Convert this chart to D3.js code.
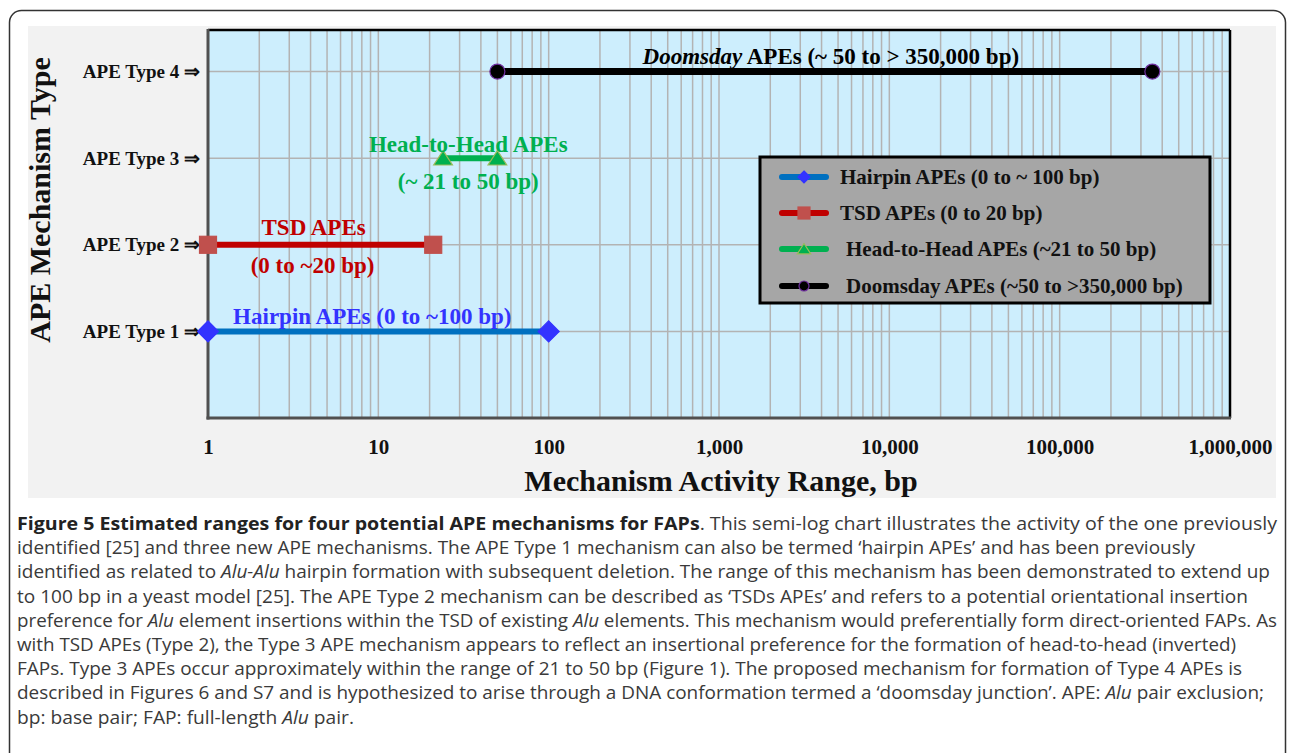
<!DOCTYPE html>
<html><head><meta charset="utf-8">
<script src="https://cdn.jsdelivr.net/npm/d3@7"></script>
<style>body{margin:0;background:#fff;} svg{display:block;}</style>
</head><body><svg id="c" width="1290" height="753"></svg>
<script>
// ---------- DATA ----------
const typeValues = [1, 2, 3, 4];
const typeTickLabels = ["APE Type 1 \u21D2", "APE Type 2 \u21D2", "APE Type 3 \u21D2", "APE Type 4 \u21D2"];
const seriesNames = ["Hairpin APEs (0 to ~ 100 bp)", "TSD APEs (0 to 20 bp)", "Head-to-Head APEs (~21 to 50 bp)", "Doomsday APEs (~50 to >350,000 bp)"];
const rangeStart = [1, 1, 24, 50];
const rangeEnd = [100, 21, 50, 350000];
const xTickValues = [1, 10, 100, 1000, 10000, 100000, 1000000];
const xTitle = "Mechanism Activity Range, bp";
const yTitle = "APE Mechanism Type";
const captionLines = [
  [["Figure 5 Estimated ranges for four potential APE mechanisms for FAPs", "b"], [". This semi-log chart illustrates the activity of the one previously", ""]],
  [["identified [25] and three new APE mechanisms. The APE Type 1 mechanism can also be termed \u2018hairpin APEs\u2019 and has been previously", ""]],
  [["identified as related to ", ""], ["Alu-Alu", "i"], [" hairpin formation with subsequent deletion. The range of this mechanism has been demonstrated to extend up", ""]],
  [["to 100 bp in a yeast model [25]. The APE Type 2 mechanism can be described as \u2018TSDs APEs\u2019 and refers to a potential orientational insertion", ""]],
  [["preference for ", ""], ["Alu", "i"], [" element insertions within the TSD of existing ", ""], ["Alu", "i"], [" elements. This mechanism would preferentially form direct-oriented FAPs. As", ""]],
  [["with TSD APEs (Type 2), the Type 3 APE mechanism appears to reflect an insertional preference for the formation of head-to-head (inverted)", ""]],
  [["FAPs. Type 3 APEs occur approximately within the range of 21 to 50 bp (Figure 1). The proposed mechanism for formation of Type 4 APEs is", ""]],
  [["described in Figures 6 and S7 and is hypothesized to arise through a DNA conformation termed a \u2018doomsday junction\u2019. APE: ", ""], ["Alu", "i"], [" pair exclusion;", ""]],
  [["bp: base pair; FAP: full-length ", ""], ["Alu", "i"], [" pair.", ""]]
];

// ---------- STYLE ----------
const lineColors = ["#0070c0", "#c00000", "#00b050", "#000000"];
const markerFill = ["#3333ff", "#c0504d", "#00b050", "#000000"];
const markerStroke = ["#3333ff", "#c0504d", "#9bbb59", "#7030a0"];
const labelColors = ["#3333ff", "#c00000", "#00b050", "#000000"];
const serif = "'Liberation Serif','Times New Roman',serif";
// right ends (px) of the caption lines as laid out in the figure
const capEnds = [1277, 1195, 1270, 1248, 1277, 1236, 1242, 1264, 354];

const svg = d3.select("#c");

// outer rounded frame
svg.append("rect").attr("x", 9.5).attr("y", 10.5).attr("width", 1276).attr("height", 790)
  .attr("rx", 12).attr("fill", "#fff").attr("stroke", "#333").attr("stroke-width", 1.5);
// chart background
svg.append("rect").attr("x", 28).attr("y", 26).attr("width", 1248).attr("height", 472).attr("fill", "#f2f2f2");

const L = 208, R = 1230, T = 30, B = 418;
const x = d3.scaleLog().domain([1, 1e6]).range([L, R]);
const y = d3.scaleLinear().domain([0, 4.48]).range([B, T]);

svg.append("rect").attr("x", L).attr("y", T).attr("width", R - L).attr("height", B - T).attr("fill", "#cdeefd");

// grid
const g = svg.append("g");
g.selectAll(".vg").data(x.ticks()).join("line")
  .attr("x1", d => x(d)).attr("x2", d => x(d)).attr("y1", T).attr("y2", B)
  .attr("stroke", "#b3b3b3").attr("stroke-width", 1.5);
g.selectAll(".hg").data(typeValues).join("line")
  .attr("x1", L).attr("x2", R).attr("y1", d => y(d)).attr("y2", d => y(d))
  .attr("stroke", "#b3b3b3").attr("stroke-width", 1.5);

// plot border
svg.append("line").attr("x1", L).attr("x2", R).attr("y1", T).attr("y2", T).attr("stroke", "#000").attr("stroke-width", 2.5);
svg.append("line").attr("x1", R).attr("x2", R).attr("y1", T).attr("y2", B).attr("stroke", "#000").attr("stroke-width", 2.5);
svg.append("line").attr("x1", L).attr("x2", L).attr("y1", T - 1).attr("y2", B + 1.5).attr("stroke", "#505050").attr("stroke-width", 3);
svg.append("line").attr("x1", L - 1.5).attr("x2", R + 1).attr("y1", B).attr("y2", B).attr("stroke", "#505050").attr("stroke-width", 3);

// x axis
const xAxis = svg.append("g").attr("transform", `translate(0,${B})`)
  .call(d3.axisBottom(x).tickValues(xTickValues).tickFormat(d3.format(",")).tickSize(0).tickPadding(21));
xAxis.select(".domain").remove();
xAxis.selectAll("text").attr("font-family", serif).attr("font-weight", "bold").attr("font-size", 21).attr("fill", "#111");

// y axis
const yAxis = svg.append("g").attr("transform", `translate(${L},0)`)
  .call(d3.axisLeft(y).tickValues(typeValues).tickFormat((d, i) => typeTickLabels[i]).tickSize(0).tickPadding(8));
yAxis.select(".domain").remove();
yAxis.selectAll("text").attr("font-family", serif).attr("font-weight", "bold").attr("font-size", 19).attr("fill", "#111");

// titles
svg.append("text").attr("x", 721).attr("y", 491).attr("text-anchor", "middle")
  .attr("font-family", serif).attr("font-weight", "bold").attr("font-size", 30).attr("fill", "#111").text(xTitle);
svg.append("text").attr("transform", "translate(50,200) rotate(-90)").attr("text-anchor", "middle")
  .attr("font-family", serif).attr("font-weight", "bold").attr("font-size", 30).attr("fill", "#111").text(yTitle);

// markers
function marker(sel, i, s) {
  const h = s / 2;
  if (i === 0) return sel.append("path").attr("d", `M0,${-h}L${h},0L0,${h}L${-h},0Z`);
  if (i === 1) return sel.append("rect").attr("x", -h).attr("y", -h).attr("width", s).attr("height", s);
  if (i === 2) return sel.append("path").attr("d", `M0,${-s * 0.42}L${s * 0.52},${s * 0.38}L${-s * 0.52},${s * 0.38}Z`);
  return sel.append("circle").attr("r", h);
}
const mSize = [21, 17, 18, 15];

const series = typeValues.map((t, i) => ({ t, i, a: rangeStart[i], b: rangeEnd[i] }));
const sg = svg.append("g");
series.forEach(s => {
  sg.append("line").attr("x1", x(s.a)).attr("x2", x(s.b)).attr("y1", y(s.t)).attr("y2", y(s.t))
    .attr("stroke", lineColors[s.i]).attr("stroke-width", s.i === 3 ? 7 : 6);
  [s.a, s.b].forEach(v => {
    const mg = sg.append("g").attr("transform", `translate(${x(v)},${y(s.t)})`);
    marker(mg, s.i, mSize[s.i]).attr("fill", markerFill[s.i]).attr("stroke", markerStroke[s.i]).attr("stroke-width", 1.2);
  });
});

// annotations
const ann = svg.append("g").attr("font-family", serif).attr("font-weight", "bold").attr("text-anchor", "middle").attr("font-size", 23);
function mid(i) { return (x(rangeStart[i]) + x(rangeEnd[i])) / 2; }
ann.append("text").attr("x", mid(0) - 6).attr("y", y(1) - 7).attr("fill", labelColors[0]).text("Hairpin APEs (0 to ~100 bp)");
ann.append("text").attr("x", mid(1) - 7).attr("y", y(2) - 10).attr("fill", labelColors[1]).text("TSD APEs");
ann.append("text").attr("x", mid(1) - 8).attr("y", y(2) + 28).attr("fill", labelColors[1]).text("(0 to ~20 bp)");
ann.append("text").attr("x", mid(2) - 2).attr("y", y(3) - 6).attr("fill", labelColors[2]).text("Head-to-Head APEs");
ann.append("text").attr("x", mid(2) - 2).attr("y", y(3) + 31).attr("fill", labelColors[2]).text("(~ 21 to 50 bp)");
const dt = ann.append("text").attr("x", mid(3) + 6).attr("y", y(4) - 8).attr("fill", labelColors[3]);
dt.append("tspan").attr("font-style", "italic").text("Doomsday");
dt.append("tspan").text(" APEs (~ 50 to > 350,000 bp)");

// legend
const lg = svg.append("g");
lg.append("rect").attr("x", 760).attr("y", 157).attr("width", 450).attr("height", 146)
  .attr("fill", "#a6a6a6").attr("stroke", "#000").attr("stroke-width", 3);
const legY = [177, 213, 249, 286];
const legDx = [0, 0, 6, 6];
seriesNames.forEach((n, i) => {
  lg.append("line").attr("x1", 782).attr("x2", 826).attr("y1", legY[i]).attr("y2", legY[i])
    .attr("stroke", lineColors[i]).attr("stroke-width", 6).attr("stroke-linecap", "round");
  const mg = lg.append("g").attr("transform", `translate(804,${legY[i]})`);
  marker(mg, i, [12, 12, 13, 10][i]).attr("fill", markerFill[i]).attr("stroke", markerStroke[i]).attr("stroke-width", 1.2);
  lg.append("text").attr("x", 840 + legDx[i]).attr("y", legY[i] + 7)
    .attr("font-family", serif).attr("font-weight", "bold").attr("font-size", 21).attr("fill", "#111").text(n);
});

// caption
const cap = svg.append("g").attr("font-family", "'Open Sans','Noto Sans',sans-serif").attr("fill", "#3a3a3a").attr("font-size", 17.5);
captionLines.forEach((line, li) => {
  const t = cap.append("text").attr("x", 17).attr("y", 530 + li * 24.2)
    .attr("textLength", capEnds[li] - 17).attr("lengthAdjust", "spacingAndGlyphs");
  line.forEach(([s, st]) => {
    const sp = t.append("tspan").text(s);
    if (st === "i") sp.attr("font-style", "italic");
    if (st === "b") sp.attr("font-weight", "bold").attr("fill", "#222");
  });
});
</script></body></html>
